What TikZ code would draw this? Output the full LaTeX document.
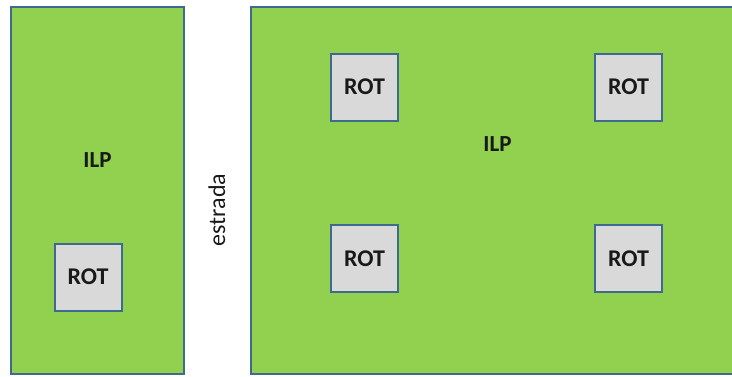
\documentclass[tikz,border=0pt]{standalone}
\usepackage{fontspec}
\setmainfont{Carlito}
\definecolor{ilpgreen}{HTML}{92D050}
\definecolor{edgeblue}{HTML}{3D6A8E}
\definecolor{rotgray}{HTML}{D9D9D9}
\tikzset{
  lot/.style={draw=edgeblue, fill=ilpgreen, line width=2pt},
  rotbox/.style={draw=edgeblue, fill=rotgray, line width=2pt, minimum width=67pt, minimum height=67pt, inner sep=0pt, font=\fontsize{24}{28}\selectfont\bfseries, text=black!90},
  lbl/.style={font=\fontsize{23}{27}\selectfont\bfseries, text=black!90, inner sep=0pt},
}
\begin{document}
\begin{tikzpicture}[x=1pt,y=-1pt]
\useasboundingbox (0,0) rectangle (732,376);
\begin{scope}
\clip (0,0) rectangle (732,376);
\draw[lot] (11,6.5) rectangle (184,373.5);
\draw[lot] (251,6.5) rectangle (740,373.5);
\end{scope}
\node[lbl] (ilpA) at (97.5,160) {ILP};
\node[lbl] (ilpB) at (497.5,144.5) {ILP};
\node[rotbox] (r0) at (88,277) {ROT};
\node[rotbox] (r1) at (364.5,87) {ROT};
\node[rotbox] (r2) at (628.5,87) {ROT};
\node[rotbox] (r3) at (364.5,258.5) {ROT};
\node[rotbox] (r4) at (628.5,258.5) {ROT};
\node[rotate=90, anchor=base, inner sep=0pt, font=\fontsize{24}{28}\selectfont, text=black!90] (road) at (225,210) {estrada};
\end{tikzpicture}
\end{document}
